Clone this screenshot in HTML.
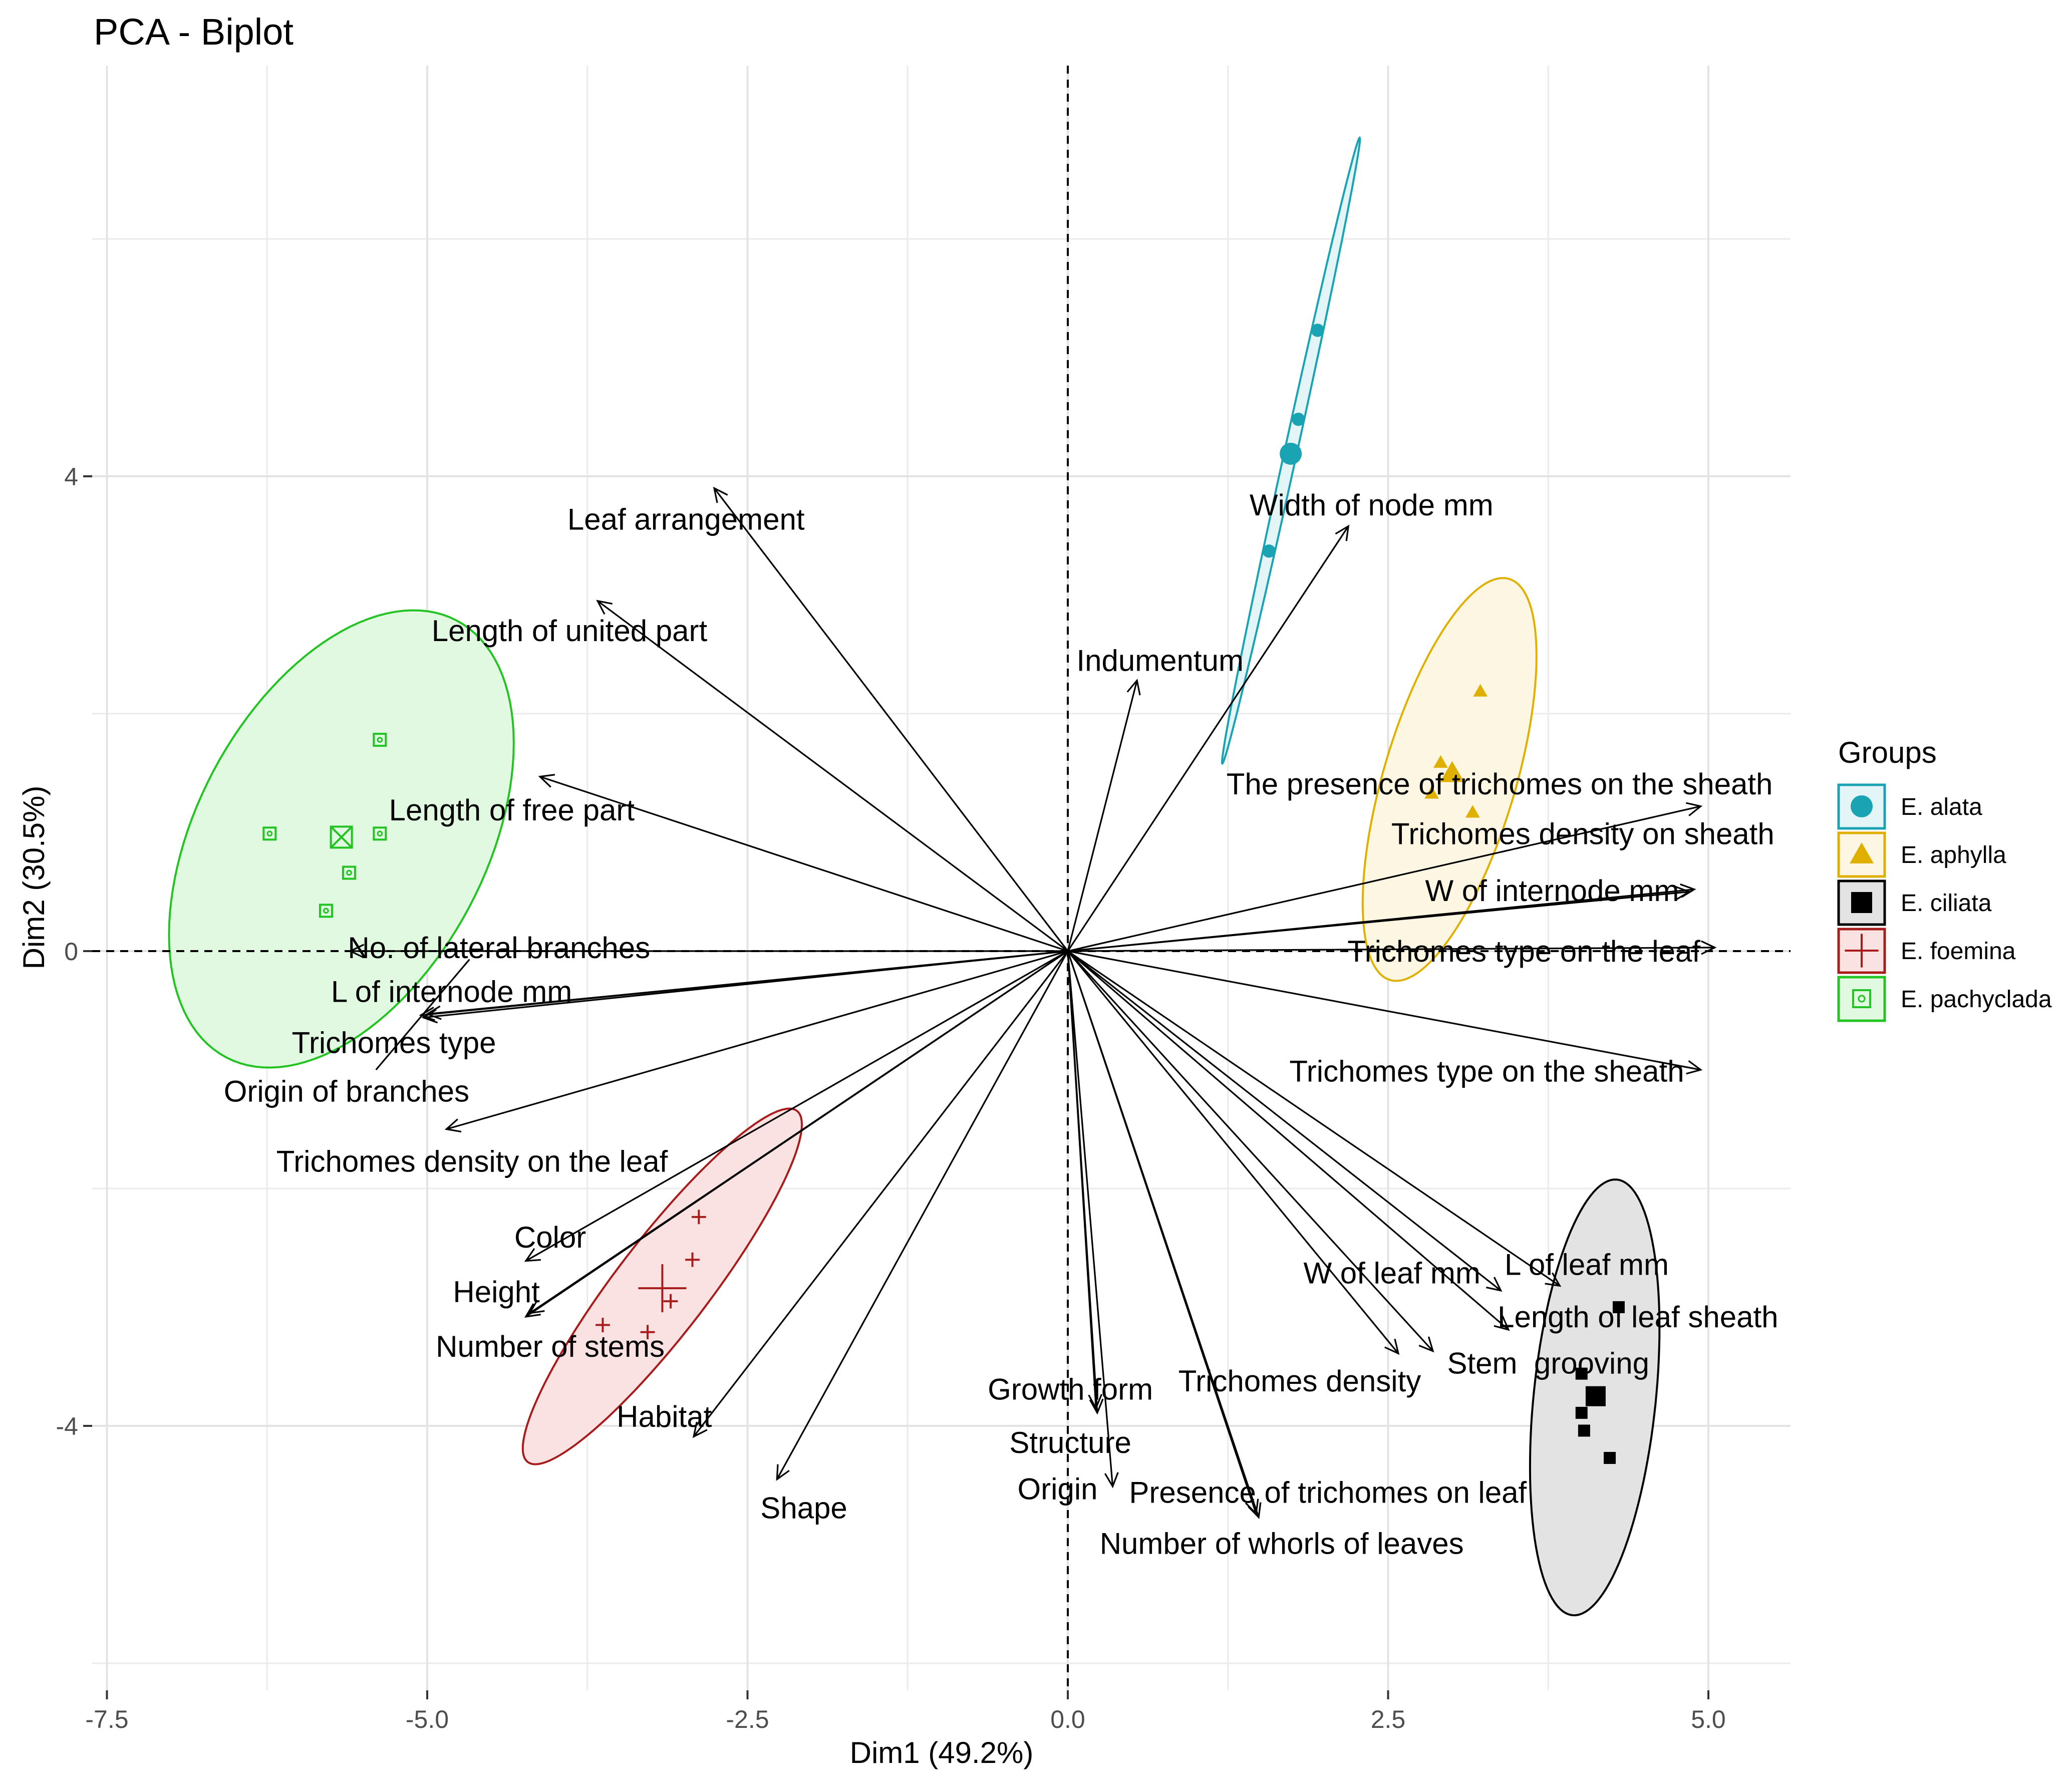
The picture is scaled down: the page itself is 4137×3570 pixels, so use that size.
<!DOCTYPE html>
<html><head><meta charset="utf-8"><style>
html,body{margin:0;padding:0;background:#fff;}
svg{display:block;font-family:"Liberation Sans",Arial,sans-serif;}
</style></head><body>
<svg id="chart" width="4137" height="3570" viewBox="0 0 4137 3570" xmlns="http://www.w3.org/2000/svg">
<rect x="0" y="0" width="4137" height="3570" fill="#fff"/>
<text x="187" y="89" font-size="74" fill="#000">PCA - Biplot</text>
<text x="1880" y="3520" font-size="60" text-anchor="middle" fill="#000">Dim1 (49.2%)</text>
<text transform="translate(88,1752) rotate(-90)" font-size="60" text-anchor="middle" fill="#000">Dim2 (30.5%)</text>
<g id="grid"></g>
<g id="ellipses"></g>
<g id="axes0"></g>
<g id="arrows"></g>
<g id="points"></g>
<g id="labels"></g>
<g id="ticks"></g>
<g id="legend">
<text x="3670" y="1523" font-size="60" fill="#000">Groups</text>
</g>
</svg>
<script>
// ---- data ----
const xTicks = [-7.5, -5.0, -2.5, 0.0, 2.5, 5.0];
const xTickLabels = ["-7.5", "-5.0", "-2.5", "0.0", "2.5", "5.0"];
const xMinor = [-6.25, -3.75, -1.25, 1.25, 3.75];
const yTicks = [-4, 0, 4];
const yTickLabels = ["-4", "0", "4"];
const yMinor = [-6, -2, 2, 6];

const varNames = ["Leaf arrangement","Length of united part","Length of free part","No. of lateral branches","L of internode mm","Trichomes type","Origin of branches","Trichomes density on the leaf","Color","Height","Number of stems","Habitat","Shape","Growth form","Structure","Origin","Presence of trichomes on leaf","Number of whorls of leaves","Trichomes density","Stem  grooving","W of leaf mm","L of leaf mm","Length of leaf sheath","Trichomes type on the sheath","Trichomes type on the leaf","W of internode mm","Trichomes density on sheath","The presence of trichomes on the sheath","Width of node mm","Indumentum"];
const varX = [-2.76,-3.67,-4.12,-5.6,-5.03,-5.05,-5.0,-4.85,-4.23,-4.23,-4.2,-2.92,-2.27,0.23,0.22,0.35,1.49,1.47,2.58,2.85,3.38,3.84,3.44,4.94,5.05,4.89,4.85,4.94,2.19,0.54];
const varY = [3.90,2.95,1.47,0.0,-0.56,-0.54,-0.53,-1.50,-2.61,-3.08,-3.05,-4.09,-4.45,-3.89,-3.85,-4.51,-4.77,-4.74,-3.39,-3.37,-2.86,-2.82,-3.19,-1.00,0.03,0.52,0.50,1.22,3.58,2.28];
const labelX = [-2.98,-3.89,-4.34,-4.44,-4.81,-5.26,-5.63,-4.65,-4.04,-4.46,-4.04,-3.15,-2.06,0.02,0.02,-0.08,2.03,1.67,1.81,3.75,2.53,4.05,4.45,3.27,3.56,3.78,4.02,3.37,2.37,0.72];
const labelY = [3.64,2.70,1.19,0.03,-0.34,-0.77,-1.18,-1.77,-2.41,-2.87,-3.33,-3.92,-4.69,-3.69,-4.14,-4.53,-4.56,-4.99,-3.62,-3.47,-2.71,-2.64,-3.08,-1.01,0.0,0.51,0.99,1.41,3.76,2.45];

const groups = ["E. alata","E. aphylla","E. ciliata","E. foemina","E. pachyclada"];
const groupColors = ["#1aa3b3","#e0b000","#000000","#a81c1c","#22c322"];
const groupFills = ["#e3f5f7","#fcf6e2","#e3e3e3","#fbe2e2","#e1f9e0"];
// ellipse centre and conjugate half-axis vectors (data units)
const ellCx = [1.742, 2.98, 4.113, -3.165, -5.67];
const ellCy = [4.216, 1.446, -3.76, -2.825, 0.945];
const ellAx = [0.536, 0.464, 0.175, 1.05, 0.90];
const ellAy = [2.636, 1.69, 1.835, 1.48, 1.84];
const ellBx = [0.05, 0.495, 0.474, 0.29, 1.0];
const ellBy = [0.0, -0.156, -0.056, -0.234, -0.57];

const ptGroup = [0,0,0, 1,1,1,1,1, 2,2,2,2,2, 3,3,3,3,3, 4,4,4,4,4];
const ptX = [1.95,1.80,1.57, 3.22,2.91,2.98,2.84,3.16, 4.30,4.01,4.01,4.03,4.23, -2.88,-2.93,-3.10,-3.63,-3.28, -5.37,-6.23,-5.37,-5.61,-5.79];
const ptY = [5.23,4.48,3.37, 2.19,1.59,1.48,1.33,1.17, -3.00,-3.56,-3.89,-4.04,-4.27, -2.24,-2.60,-2.95,-3.15,-3.21, 1.78,0.99,0.99,0.66,0.34];
const centX = [1.74, 3.00, 4.12, -3.165, -5.67];
const centY = [4.19, 1.50, -3.75, -2.84, 0.96];

// ---- scales ----
const X0 = 2132, UX = 255.8, Y0 = 1899, UY = 237;
const PL = 184, PR = 3575, PT = 131, PB = 3375;
function sx(v){ return X0 + v*UX; }
function sy(v){ return Y0 - v*UY; }
const NS = "http://www.w3.org/2000/svg";
function mk(tag, attrs, parent){
  const e = document.createElementNS(NS, tag);
  for (const k in attrs) e.setAttribute(k, attrs[k]);
  parent.appendChild(e);
  return e;
}
const G = id => document.getElementById(id);

// grid
xMinor.forEach(v => {
  const l = mk('line',{x1:sx(v),x2:sx(v),y1:PT,y2:PB,stroke:'#ebebeb','stroke-width':3},G('grid'));
  
  
});
yMinor.forEach(v => {
  const l = mk('line',{x1:PL,x2:PR,y1:sy(v),y2:sy(v),stroke:'#ebebeb','stroke-width':3},G('grid'));
  
  
});
xTicks.forEach(v => {
  const l = mk('line',{x1:sx(v),x2:sx(v),y1:PT,y2:PB,stroke:'#e3e3e3','stroke-width':4},G('grid'));
  
  
});
yTicks.forEach(v => {
  const l = mk('line',{x1:PL,x2:PR,y1:sy(v),y2:sy(v),stroke:'#e3e3e3','stroke-width':4},G('grid'));
  
  
});

// ticks & labels
xTicks.forEach((v,i) => {
  const t = mk('line',{x1:sx(v),x2:sx(v),y1:PB,y2:PB+18,stroke:'#333','stroke-width':4},G('ticks'));
  
  
  const tx = mk('text',{x:sx(v),y:3450,'font-size':50,'text-anchor':'middle',fill:'#4d4d4d'},G('ticks'));
  tx.textContent = xTickLabels[i];
  
  
});
yTicks.forEach((v,i) => {
  const t = mk('line',{x1:PL-18,x2:PL,y1:sy(v),y2:sy(v),stroke:'#333','stroke-width':4},G('ticks'));
  
  
  const tx = mk('text',{x:156,y:sy(v)+18,'font-size':50,'text-anchor':'end',fill:'#4d4d4d'},G('ticks'));
  tx.textContent = yTickLabels[i];
  
  
});

// ellipses
groups.forEach((g,i) => {
  let d = '';
  for (let k=0;k<=120;k++){
    const t = k/120*2*Math.PI;
    const px = sx(ellCx[i] + ellAx[i]*Math.cos(t) + ellBx[i]*Math.sin(t));
    const py = sy(ellCy[i] + ellAy[i]*Math.cos(t) + ellBy[i]*Math.sin(t));
    d += (k?'L':'M') + px.toFixed(1) + ' ' + py.toFixed(1);
  }
  const p = mk('path',{d:d+'Z',fill:groupFills[i],stroke:groupColors[i],'stroke-width':4},G('ellipses'));
  
  
});

// zero lines
const zx = mk('line',{x1:sx(0),x2:sx(0),y1:PT,y2:PB,stroke:'#000','stroke-width':4,'stroke-dasharray':'16 12'},G('axes0'));


const zy = mk('line',{x1:PL,x2:PR,y1:sy(0),y2:sy(0),stroke:'#000','stroke-width':4,'stroke-dasharray':'16 12'},G('axes0'));



// arrows
varNames.forEach((n,i) => {
  const x1 = sx(0), y1 = sy(0), x2 = sx(varX[i]), y2 = sy(varY[i]);
  const ang = Math.atan2(y2-y1, x2-x1), L = 30, a = Math.PI/7;
  const hx1 = x2 - L*Math.cos(ang-a), hy1 = y2 - L*Math.sin(ang-a);
  const hx2 = x2 - L*Math.cos(ang+a), hy2 = y2 - L*Math.sin(ang+a);
  const p = mk('path',{d:`M${x1} ${y1}L${x2} ${y2}M${hx1} ${hy1}L${x2} ${y2}L${hx2} ${hy2}`,fill:'none',stroke:'#000','stroke-width':3.2},G('arrows'));
  
  
});
const stray = mk('line',{x1:sx(-4.67),y1:sy(-0.07),x2:sx(-5.40),y2:sy(-1.0),stroke:'#000','stroke-width':3.2},G('arrows'));



// point markers
function marker(gi, cx, cy, s, parent){
  const c = groupColors[gi];
  if (gi===0) return mk('circle',{cx:cx,cy:cy,r:s*0.55,fill:c},parent);
  if (gi===1) return mk('path',{d:`M${cx} ${cy-s*0.6}L${cx+s*0.6} ${cy+s*0.45}L${cx-s*0.6} ${cy+s*0.45}Z`,fill:c},parent);
  if (gi===2) return mk('rect',{x:cx-s/2,y:cy-s/2,width:s,height:s,fill:c},parent);
  if (gi===3) return mk('path',{d:`M${cx-s*0.6} ${cy}H${cx+s*0.6}M${cx} ${cy-s*0.6}V${cy+s*0.6}`,stroke:c,'stroke-width':4,fill:'none'},parent);
  const g = mk('g',{},parent);
  mk('rect',{x:cx-s/2,y:cy-s/2,width:s,height:s,fill:'none',stroke:c,'stroke-width':4},g);
  mk('circle',{cx:cx,cy:cy,r:s*0.18,fill:'none',stroke:c,'stroke-width':3},g);
  return g;
}
ptX.forEach((v,i) => {
  const m = marker(ptGroup[i], sx(v), sy(ptY[i]), 24, G('points'));
  
  
});
centX.forEach((v,i) => {
  let m;
  if (i===4){
    m = mk('g',{},G('points'));
    const cx=sx(v), cy=sy(centY[i]), s=42, c=groupColors[4];
    mk('rect',{x:cx-s/2,y:cy-s/2,width:s,height:s,fill:'none',stroke:c,'stroke-width':4},m);
    mk('path',{d:`M${cx-s/2} ${cy-s/2}L${cx+s/2} ${cy+s/2}M${cx+s/2} ${cy-s/2}L${cx-s/2} ${cy+s/2}`,stroke:c,'stroke-width':4},m);
  } else {
    m = marker(i, sx(v), sy(centY[i]), i===3?80:40, G('points'));
  }
  
  
});

// labels
varNames.forEach((n,i) => {
  const t = mk('text',{x:sx(labelX[i]),y:sy(labelY[i])+21,'font-size':60,'text-anchor':'middle',fill:'#000','xml:space':'preserve'},G('labels'));
  t.style.whiteSpace = 'pre';
  t.textContent = n;
  
  
});

// legend
groups.forEach((g,i) => {
  const y = 1567 + i*96;
  const box = mk('rect',{x:3671,y:y,width:92,height:87,fill:groupFills[i],stroke:groupColors[i],'stroke-width':5},G('legend'));
  
  
  const m = i===3 ? marker(3, 3717, y+43, 56, G('legend')) : marker(i, 3717, y+43, i===4?34:i===2?42:40, G('legend'));
  
  
  const t = mk('text',{x:3795,y:y+60,'font-size':48,fill:'#000'},G('legend'));
  t.textContent = g;
  
  
});
</script>
</body></html>
